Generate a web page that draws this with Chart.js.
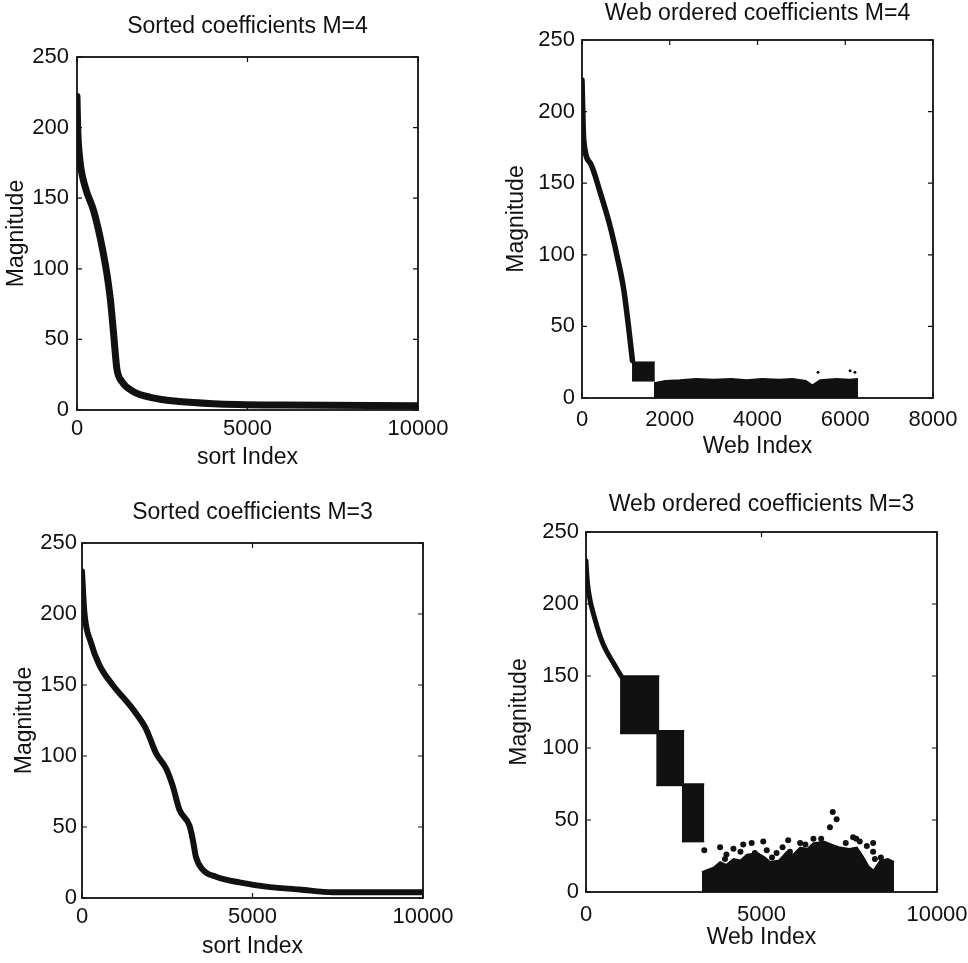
<!DOCTYPE html>
<html>
<head>
<meta charset="utf-8">
<title>Sorted and web ordered coefficients</title>
<script src="https://cdn.jsdelivr.net/npm/chart.js@4.4.0/dist/chart.umd.min.js"></script>
<style>
  html, body { margin: 0; padding: 0; background: #fff; }
  body { position: relative; width: 968px; height: 963px; overflow: hidden; }
  canvas { position: absolute; }
</style>
</head>
<body>
<canvas id="sortedM4"></canvas>
<canvas id="webM4"></canvas>
<canvas id="sortedM3"></canvas>
<canvas id="webM3"></canvas>
<script>
// values
var magTicks = [0, 50, 100, 150, 200, 250];
var sortTicks = [0, 5000, 10000];
var web4Ticks = [0, 2000, 4000, 6000, 8000];
var web3Ticks = [0, 5000, 10000];

// Sorted coefficients M=4
var sort4Index = [0, 20, 80, 240, 490, 680, 880, 975, 1070, 1120, 1170, 1320, 1660, 2150, 3000, 4000, 6000, 10000];
var sort4Mag = [222, 200, 178, 158, 141, 122, 96, 79, 55, 41, 29, 20, 13, 9, 6, 4.5, 3.5, 3];

// Web ordered coefficients M=4
var web4Index = [0, 40, 190, 420, 640, 800, 950, 1060, 1150];
var web4Mag = [222, 180, 164, 143, 120, 99, 76, 50, 26];
var web4BlockFrom = [1140];
var web4BlockTo = [1660];
var web4BlockLow = [12];
var web4BlockHigh = [25];
var web4TailIndex = [1640, 1900, 2230, 2600, 3000, 3400, 3760, 4100, 4500, 4800, 5100, 5250, 5430, 5800, 6100, 6290];
var web4TailTop = [10.5, 12, 12.5, 13.5, 13, 13.5, 12.5, 13.5, 13, 13.5, 12, 9, 12.5, 13.5, 13, 13.5];
var web4DotIndex = [5380, 6110, 6220];
var web4DotMag = [18, 19, 18];

// Sorted coefficients M=3
var sort3Index = [0, 70, 260, 510, 900, 1490, 1880, 2170, 2470, 2660, 2860, 3150, 3250, 3340, 3540, 3930, 4620, 5400, 6380, 7360, 10000];
var sort3Mag = [230, 201, 180, 164, 150, 133, 119, 102, 91, 79, 62, 51, 41, 29, 20, 15, 11, 8, 6, 4, 4];

// Web ordered coefficients M=3
var web3Index = [0, 20, 70, 260, 490, 780, 1000];
var web3Mag = [230, 221, 209, 189, 172, 159, 150];
var web3BlockFrom = [970, 2000, 2730];
var web3BlockTo = [2090, 2800, 3370];
var web3BlockLow = [110, 74, 35];
var web3BlockHigh = [150, 112, 75];
var web3TailIndex = [3300, 3630, 3820, 4000, 4200, 4400, 4580, 4900, 5100, 5250, 5500, 5720, 5900, 6100, 6300, 6480, 6800, 7000, 7240, 7500, 7720, 7910, 8050, 8190, 8380, 8600, 8775];
var web3TailTop = [14, 17, 21, 19, 23, 22, 26, 27, 24, 21, 22, 28, 26, 31, 30, 34, 35, 33, 31, 30, 31, 24, 18, 15, 22, 23, 21];
var web3DotIndex = [3370, 3820, 3960, 4000, 4200, 4400, 4480, 4720, 4810, 5050, 5150, 5300, 5430, 5600, 5760, 5810, 6100, 6250, 6480, 6700, 6950, 7030, 7140, 7400, 7610, 7700, 7800, 8000, 8180, 8180, 8230, 8400];
var web3DotMag = [29, 31, 23, 26, 30, 28, 33, 34, 27, 35, 29, 24, 27, 31, 36, 28, 34, 33, 37, 37, 45, 55.5, 50.5, 34, 38, 37, 35, 32, 34, 28, 23, 24];

var ink = '#111';
var fontFamily = "'Liberation Sans', Arial, Helvetica, sans-serif";
var fontSize = 23;
var lineH = fontSize * 1.2;

function pts(xs, ys) {
  return xs.map(function (x, i) { return { x: x, y: ys[i] }; });
}

function curve(xs, ys, w) {
  return { data: pts(xs, ys), borderColor: ink, borderWidth: w, pointRadius: 0, fill: false,
           cubicInterpolationMode: 'monotone', borderJoinStyle: 'round', borderCapStyle: 'round' };
}

function band(xs, tops, lows) {
  var top = { data: pts(xs, tops), borderColor: ink, borderWidth: 1.5, pointRadius: 0,
              backgroundColor: ink, fill: lows ? '+1' : 'origin' };
  if (!lows) return [top];
  var bottom = { data: pts(xs, lows), borderColor: ink, borderWidth: 1.5, pointRadius: 0, fill: false };
  return [top, bottom];
}

function blocks(from, to, low, high) {
  var out = [];
  from.forEach(function (f, i) {
    out = out.concat(band([f, to[i]], [high[i], high[i]], [low[i], low[i]]));
  });
  return out;
}

function dots(xs, ys, r) {
  return { data: pts(xs, ys), showLine: false, pointRadius: r, pointBackgroundColor: ink,
           pointBorderWidth: 0, fill: false };
}

// MATLAB style box with inward tick marks
var frame = {
  id: 'frame',
  afterDraw: function (chart) {
    var a = chart.chartArea, ctx = chart.ctx, xs = chart.scales.x, ys = chart.scales.y;
    ctx.save();
    ctx.strokeStyle = ink;
    ctx.lineWidth = 1.8;
    ctx.strokeRect(a.left, a.top, a.right - a.left, a.bottom - a.top);
    ctx.lineWidth = 1.2;
    ctx.beginPath();
    xs.ticks.forEach(function (t) {
      var px = xs.getPixelForValue(t.value);
      ctx.moveTo(px, a.bottom); ctx.lineTo(px, a.bottom - 5);
      ctx.moveTo(px, a.top); ctx.lineTo(px, a.top + 5);
    });
    ys.ticks.forEach(function (t) {
      var py = ys.getPixelForValue(t.value);
      ctx.moveTo(a.left, py); ctx.lineTo(a.left + 5, py);
      ctx.moveTo(a.right, py); ctx.lineTo(a.right - 5, py);
    });
    ctx.stroke();
    ctx.restore();
  }
};

function plain(v) { return String(v); }

function makePanel(id, p, datasets) {
  var canvas = document.getElementById(id);
  canvas.width = p.w;
  canvas.height = p.h;
  canvas.style.left = p.left + 'px';
  canvas.style.top = p.top + 'px';
  var L = p.area[0] - p.left, T = p.area[1] - p.top, R = p.area[2] - p.left, B = p.area[3] - p.top;
  var tTop = Math.max(0, p.titleY - p.top - lineH / 2);
  var f = { family: fontFamily, size: fontSize, weight: 'normal' };
  var tf = { family: fontFamily, size: 22, weight: 'normal' };
  return new Chart(canvas, {
    type: 'line',
    data: { datasets: datasets },
    plugins: [frame],
    options: {
      responsive: false,
      animation: false,
      devicePixelRatio: 1,
      layout: { padding: { left: 0, top: 0, right: p.w - R, bottom: 0 } },
      plugins: {
        legend: { display: false },
        tooltip: { enabled: false },
        title: { display: true, text: p.title, fullSize: false, color: ink, font: f,
                 padding: { top: tTop, bottom: T - tTop - lineH } }
      },
      scales: {
        x: {
          type: 'linear', min: 0, max: p.xTicks[p.xTicks.length - 1],
          afterBuildTicks: function (s) { s.ticks = p.xTicks.map(function (v) { return { value: v }; }); },
          afterFit: function (s) { s.height = p.h - B; s.paddingLeft = 0; s.paddingRight = 0; },
          grid: { display: false, drawTicks: false },
          border: { display: false },
          ticks: { color: ink, font: tf, padding: p.xTickPad, maxRotation: 0, autoSkip: false, callback: plain },
          title: { display: true, text: p.xTitle, color: ink, font: f,
                   padding: { top: 0, bottom: p.h - (p.xTitleY - p.top) - lineH / 2 } }
        },
        y: {
          type: 'linear', min: 0, max: 250,
          afterBuildTicks: function (s) { s.ticks = magTicks.map(function (v) { return { value: v }; }); },
          afterFit: function (s) { s.width = L; s.paddingTop = 0; s.paddingBottom = 0; },
          grid: { display: false, drawTicks: false },
          border: { display: false },
          ticks: { color: ink, font: tf, padding: p.yTickPad, autoSkip: false, callback: plain },
          title: { display: true, text: 'Magnitude', color: ink, font: f,
                   padding: { top: p.yTitleX - p.left - lineH / 2, bottom: 0 } }
        }
      }
    }
  });
}

makePanel('sortedM4', {
  left: 0, top: 0, w: 470, h: 480, area: [77, 57, 418, 410],
  title: 'Sorted coefficients M=4', titleY: 27, xTitle: 'sort Index', xTitleY: 458, yTitleX: 17,
  xTicks: sortTicks, xTickPad: 6, yTickPad: 8
}, [curve(sort4Index, sort4Mag, 7)]);

makePanel('webM4', {
  left: 484, top: 0, w: 484, h: 480, area: [582, 40, 933, 398],
  title: 'Web ordered coefficients M=4', titleY: 13, xTitle: 'Web Index', xTitleY: 447, yTitleX: 517,
  xTicks: web4Ticks, xTickPad: 9, yTickPad: 7
}, [curve(web4Index, web4Mag, 5.5)]
  .concat(blocks(web4BlockFrom, web4BlockTo, web4BlockLow, web4BlockHigh))
  .concat(band(web4TailIndex, web4TailTop))
  .concat([dots(web4DotIndex, web4DotMag, 1.5)]));

makePanel('sortedM3', {
  left: 0, top: 480, w: 470, h: 483, area: [82, 543, 423, 898],
  title: 'Sorted coefficients M=3', titleY: 513, xTitle: 'sort Index', xTitleY: 947, yTitleX: 25,
  xTicks: sortTicks, xTickPad: 6, yTickPad: 5
}, [curve(sort3Index, sort3Mag, 6)]);

makePanel('webM3', {
  left: 484, top: 480, w: 484, h: 483, area: [586, 532, 937, 892],
  title: 'Web ordered coefficients M=3', titleY: 505, xTitle: 'Web Index', xTitleY: 938, yTitleX: 520,
  xTicks: web3Ticks, xTickPad: 10, yTickPad: 7
}, [curve(web3Index, web3Mag, 5)]
  .concat(blocks(web3BlockFrom, web3BlockTo, web3BlockLow, web3BlockHigh))
  .concat(band(web3TailIndex, web3TailTop))
  .concat([dots(web3DotIndex, web3DotMag, 3)]));
</script>
</body>
</html>
